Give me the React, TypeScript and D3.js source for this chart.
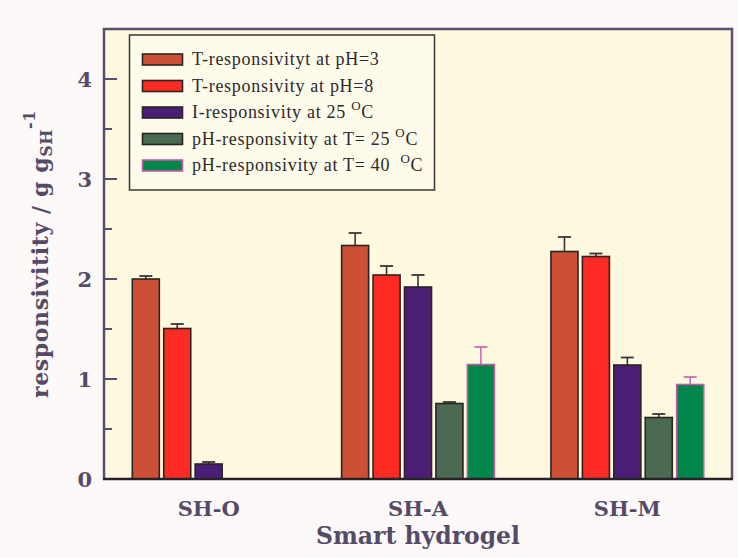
import React from "react";
import * as d3 from "d3";

// Hydrogel samples on the x axis
const groups = ["SH-O", "SH-A", "SH-M"];

// Series labels (legend order)
const seriesLabels = [
  "T-responsivityt at pH=3",
  "T-responsivity at pH=8",
  "I-responsivity at 25 ",
  "pH-responsivity at T= 25 ",
  "pH-responsivity at T= 40  ",
];
const seriesHasDegree = [false, false, true, true, true];

// Mean responsivity per sample (null = not measured)
const tResp3: (number | null)[] = [2.0, 2.335, 2.275];
const tResp8: (number | null)[] = [1.505, 2.04, 2.225];
const iResp25: (number | null)[] = [0.15, 1.92, 1.14];
const phResp25: (number | null)[] = [null, 0.755, 0.615];
const phResp40: (number | null)[] = [null, 1.145, 0.945];

// Upper error bar lengths
const tResp3Err = [0.03, 0.125, 0.145];
const tResp8Err = [0.045, 0.09, 0.03];
const iResp25Err = [0.02, 0.12, 0.075];
const phResp25Err = [0, 0.015, 0.035];
const phResp40Err = [0, 0.175, 0.075];

const yTicks = [0, 1, 2, 3, 4];
const yMinorTicks = [0.5, 1.5, 2.5, 3.5, 4.5];

const fills = ["#cc4f36", "#ff2a24", "#4a1e74", "#4b6a52", "#00864a"];
const strokes = ["#2a2424", "#2a2424", "#2a2424", "#2a2424", "#c65aa8"];
const errColors = ["#3a3434", "#3a3434", "#3a3434", "#3a3434", "#cf6cb4"];

const W = 738;
const H = 558;
const plot = { left: 104, right: 732, top: 29, bottom: 479 };
const axisColor = "#5c4e70";
const textColor = "#554a68";
const serif = "'DejaVu Serif', 'Liberation Serif', serif";
const legendSerif = "'Liberation Serif', 'DejaVu Serif', serif";

export default function App() {
  const values = [tResp3, tResp8, iResp25, phResp25, phResp40];
  const errs = [tResp3Err, tResp8Err, iResp25Err, phResp25Err, phResp40Err];

  const x0 = d3.scaleBand<string>().domain(groups).range([plot.left, plot.right]).padding(0);
  const x1 = d3
    .scaleBand<number>()
    .domain(d3.range(seriesLabels.length))
    .range([0, x0.bandwidth()])
    .paddingInner(0.14)
    .paddingOuter(0.9);
  const y = d3.scaleLinear().domain([0, 4.5]).range([plot.bottom, plot.top]);

  const bw = x1.bandwidth();
  const capHalf = 6.5;

  const legend = { x: 129.5, y: 35, w: 305, h: 155 };

  return (
    <svg
      width={W}
      height={H}
      style={{ position: "fixed", left: 0, top: 0, display: "block" }}
      xmlns="http://www.w3.org/2000/svg"
    >
      <rect x={0} y={0} width={W} height={H} fill="#fcf9f8" />
      <rect
        x={plot.left}
        y={plot.top}
        width={plot.right - plot.left}
        height={plot.bottom - plot.top}
        fill="#fff9df"
      />

      {/* bars with upper error bars */}
      {values.map((series, si) =>
        series.map((v, gi) => {
          if (v == null) return null;
          const bx = (x0(groups[gi]) as number) + (x1(si) as number);
          const cx = bx + bw / 2;
          const top = y(v);
          const eTop = y(v + errs[si][gi]);
          return (
            <g key={`${si}-${gi}`}>
              <line x1={cx} x2={cx} y1={top} y2={eTop} stroke={errColors[si]} strokeWidth={1.6} />
              <line
                x1={cx - capHalf}
                x2={cx + capHalf}
                y1={eTop}
                y2={eTop}
                stroke={errColors[si]}
                strokeWidth={1.8}
              />
              <rect
                x={bx}
                y={top}
                width={bw}
                height={y(0) - top}
                fill={fills[si]}
                stroke={strokes[si]}
                strokeWidth={1.6}
              />
            </g>
          );
        })
      )}

      {/* frame */}
      <path
        d={`M${plot.left},${plot.bottom} V${plot.top} H${plot.right} V${plot.bottom}`}
        fill="none"
        stroke={axisColor}
        strokeWidth={2.5}
      />
      <line
        x1={plot.left - 1}
        x2={plot.right + 1}
        y1={plot.bottom}
        y2={plot.bottom}
        stroke="#262228"
        strokeWidth={2.5}
      />

      {/* y ticks */}
      {yTicks.map((t) => (
        <g key={`t${t}`}>
          {t > 0 && (
            <line
              x1={plot.left}
              x2={plot.left + 13}
              y1={y(t)}
              y2={y(t)}
              stroke={axisColor}
              strokeWidth={2}
            />
          )}
          <text
            x={92}
            y={y(t)}
            dy="0.36em"
            textAnchor="end"
            fontFamily={serif}
            fontWeight="bold"
            fontSize={21}
            fill={textColor}
          >
            {t}
          </text>
        </g>
      ))}
      {yMinorTicks.map((t) => (
        <line
          key={`m${t}`}
          x1={plot.left}
          x2={plot.left + 8}
          y1={y(t)}
          y2={y(t)}
          stroke={axisColor}
          strokeWidth={2}
        />
      ))}

      {/* x category labels */}
      {groups.map((g) => (
        <text
          key={g}
          x={(x0(g) as number) + x0.bandwidth() / 2}
          y={516}
          textAnchor="middle"
          fontFamily={serif}
          fontWeight="bold"
          fontSize={21}
          fill={textColor}
        >
          {g}
        </text>
      ))}
      <text
        x={(plot.left + plot.right) / 2}
        y={544}
        textAnchor="middle"
        fontFamily={serif}
        fontWeight="bold"
        fontSize={23.5}
        fill={textColor}
      >
        Smart hydrogel
      </text>

      {/* y axis title */}
      <text
        transform="translate(48,254) rotate(-90)"
        textAnchor="middle"
        fontFamily={serif}
        fontWeight="bold"
        fontSize={22}
        letterSpacing={0.6}
        fill={textColor}
      >
        responsivitity / g g
        <tspan fontSize={16} dy={4}>
          SH
        </tspan>
        <tspan fontSize={16} dy={-17}>
          -1
        </tspan>
      </text>

      {/* legend */}
      <rect
        x={legend.x}
        y={legend.y}
        width={legend.w}
        height={legend.h}
        fill="#fffbea"
        stroke="#3a3636"
        strokeWidth={1.5}
      />
      {seriesLabels.map((label, i) => {
        const cy = 59.5 + i * 26.5;
        return (
          <g key={label}>
            <rect
              x={142.5}
              y={cy - 5.5}
              width={40}
              height={11}
              fill={fills[i]}
              stroke={strokes[i]}
              strokeWidth={1.6}
            />
            <text
              x={192}
              y={cy + 5.5}
              fontFamily={legendSerif}
              fontSize={18}
              letterSpacing={0.7}
              fill="#2c2a2c"
              style={{ whiteSpace: "pre" }}
            >
              {label}
              {seriesHasDegree[i] && (
                <>
                  <tspan fontSize={13} dy={-8}>
                    O
                  </tspan>
                  <tspan dy={8}>C</tspan>
                </>
              )}
            </text>
          </g>
        );
      })}
    </svg>
  );
}
